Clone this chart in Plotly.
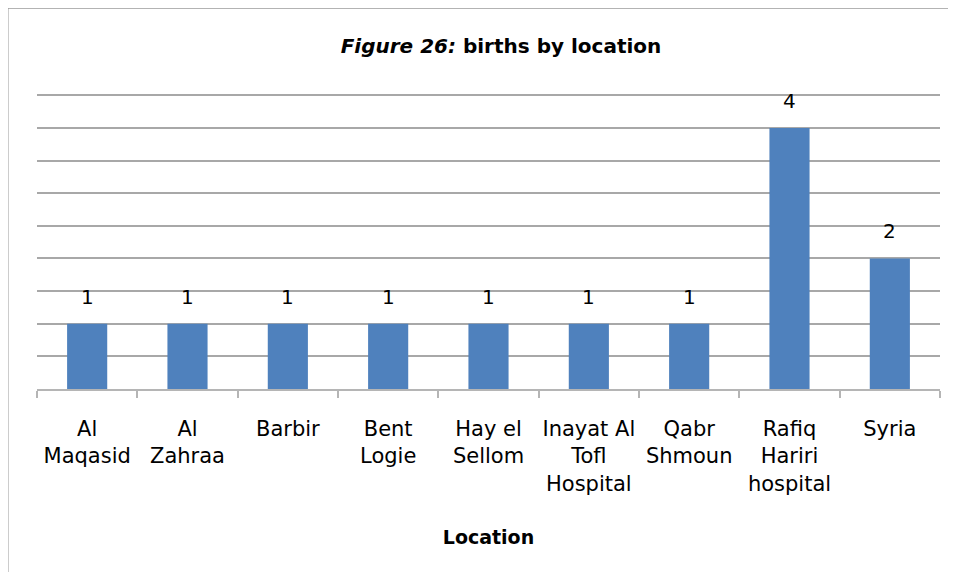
import plotly.graph_objects as go

categories = ["Al<br>Maqasid", "Al<br>Zahraa", "Barbir", "Bent<br>Logie", "Hay el<br>Sellom",
              "Inayat Al<br>Tofl<br>Hospital", "Qabr<br>Shmoun", "Rafiq<br>Hariri<br>hospital", "Syria"]
births = [1, 1, 1, 1, 1, 1, 1, 4, 2]
value_labels = [str(v) for v in births]

OFF = 8  # page body margin
YMAX = 4.55
W, H = 956 - 2 * OFF, 580 - 2 * OFF
B = 389 - OFF
T = B - 294 * YMAX / 4.5
L, R = 37 - OFF, 940 - OFF

def px_x(x):
    return (x - OFF - L) / (R - L)

def px_y(y):
    return (B - (y - OFF)) / (B - T)

FONT = "DejaVu Sans"

fig = go.Figure()
fig.add_trace(go.Bar(
    x=categories, y=births, width=0.4,
    marker=dict(color="#4F81BD", line=dict(width=0)),
    hoverinfo="x+y",
))

annotations = []
for c, v, t in zip(categories, births, value_labels):
    annotations.append(dict(x=c, y=v, text=t, showarrow=False, yanchor="bottom",
                            yshift=13, font=dict(family=FONT, size=20, color="#000000")))

fig.update_layout(
    width=W, height=H,
    margin=dict(l=L, r=W - R, t=T, b=H - B, pad=0, autoexpand=False),
    paper_bgcolor="white", plot_bgcolor="white",
    showlegend=False,
    title=dict(
        text="<b><i>Figure 26:</i> births by location</b>",
        x=px_x(501), xref="paper", xanchor="center",
        y=1 - (46 - OFF) / H, yanchor="middle",
        font=dict(family=FONT, size=20, color="#000000"),
    ),
    xaxis=dict(
        type="category", automargin=False, tickangle=0,
        tickson="boundaries", ticks="outside", ticklen=7, tickwidth=1.5,
        tickcolor="#B5B5B5", showline=True, linecolor="#B5B5B5", linewidth=1.5,
        showgrid=False,
        tickfont=dict(family=FONT, size=21, color="#000000"),
        ticklabelstandoff=20,
        title=dict(text="<b>Location</b>", font=dict(family=FONT, size=19, color="#000000"),
                   standoff=36),
    ),
    yaxis=dict(
        range=[0, YMAX], dtick=0.5, showticklabels=False, ticks="", automargin=False,
        showgrid=True, gridcolor="#A8A8A8", gridwidth=1.5,
        zeroline=False, showline=False,
    ),
    annotations=annotations,
    shapes=[
        dict(type="line", xref="paper", yref="paper",
             x0=px_x(7.5), x1=px_x(7.5), y0=px_y(7.5), y1=px_y(600),
             line=dict(color="#9A9A9A", width=2)),
        dict(type="line", xref="paper", yref="paper",
             x0=px_x(7.5), x1=px_x(1000), y0=px_y(7.5), y1=px_y(7.5),
             line=dict(color="#9A9A9A", width=2)),
    ],
)

fig.write_html("out.html")
